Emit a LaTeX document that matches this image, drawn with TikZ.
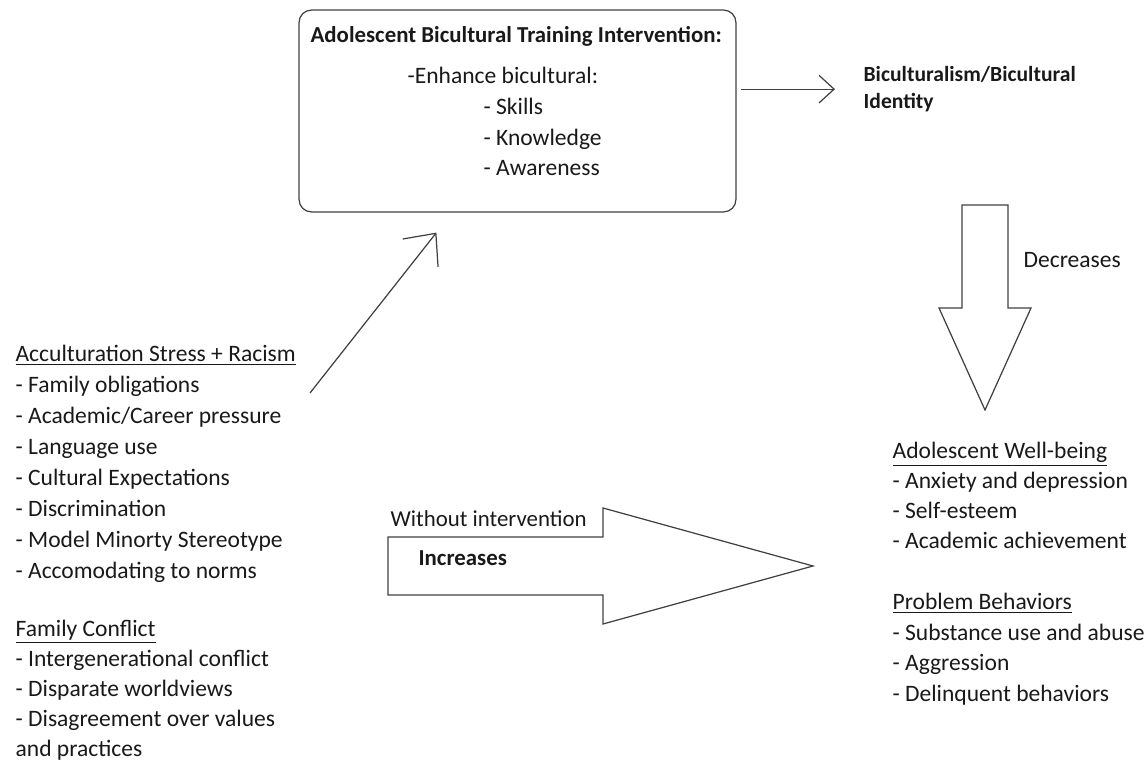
\documentclass[tikz,border=0pt]{standalone}
\usepackage{fontspec}
\setmainfont{Carlito}
\usetikzlibrary{arrows.meta,calc,positioning}

\begin{document}
\begin{tikzpicture}[
    x=0.02cm, y=-0.02cm, black!75, line width=0.7pt,
    txt/.style={inner sep=0pt, anchor=base west, align=left, text=black!90,
                font=\fontsize{13.4}{17.6}\selectfont},
    btxt/.style={txt, font=\fontsize{13}{17.6}\selectfont\bfseries},
    box/.style={draw, rounded corners=0.25cm, minimum width=8.74cm, minimum height=4.04cm}
]
\useasboundingbox (0,0) rectangle (1146,763);

% intervention box (multi-line nodes sit on their last baseline)
\node[box] (train) at (517.5,111) {};
\node[btxt] (trainhd) at (310,43) {Adolescent Bicultural Training Intervention:};
\node[txt] (enh) at (407,84) {-Enhance bicultural:};
\node[txt] (skills) at (483,176) {- Skills\\- Knowledge\\- Awareness};

\node[btxt, font=\fontsize{12.3}{15.9}\selectfont\bfseries] (ident) at (863,109)
     {Biculturalism/Bicultural\\Identity};
\draw[-{Straight Barb[length=0.3cm,width=0.55cm]}, shorten <=0.08cm, shorten >=0.56cm]
     (train.east |- ident.west) -- (ident.west);

% decreases
\draw (962,205) -- (1008,205) -- (1008,308) -- (1031,308) -- (985,410)
      -- (939,308) -- (962,308) -- cycle;
\node[txt] (decr) at (1023,268) {Decreases};

% outcomes
\node[txt, font=\fontsize{13.4}{17}\selectfont] (wellb) at (892,548)
     {\underline{Adolescent Well-being}\\- Anxiety and depression\\- Self-esteem\\- Academic achievement};
\node[txt, font=\fontsize{13.4}{17.3}\selectfont] (probl) at (892,701)
     {\underline{Problem Behaviors}\\- Substance use and abuse\\- Aggression\\- Delinquent behaviors};

% increases
\draw (388,537) -- (603,537) -- (603,508) -- (813,566) -- (603,624)
      -- (603,595) -- (388,595) -- cycle;
\node[txt, font=\fontsize{13}{17.6}\selectfont] (without) at (390,526) {Without intervention};
\node[btxt] (incr) at (418,565) {Increases};

% stressors
\node[txt] (stress) at (15,578)
     {\underline{Acculturation Stress + Racism}\\- Family obligations\\- Academic/Career pressure\\- Language use\\- Cultural Expectations\\- Discrimination\\- Model Minorty Stereotype\\- Accomodating to norms};
\node[txt, font=\fontsize{13.4}{17}\selectfont] (confl) at (15,756)
     {\underline{Family Conflict}\\- Intergenerational conflict\\- Disparate worldviews\\- Disagreement over values\\and practices};

\coordinate (s1) at (310,393);
\draw[-{Straight Barb[length=0.5cm,width=0.9cm]}] (s1) -- ($(train.south west)+(138,20)$);
\end{tikzpicture}
\end{document}
